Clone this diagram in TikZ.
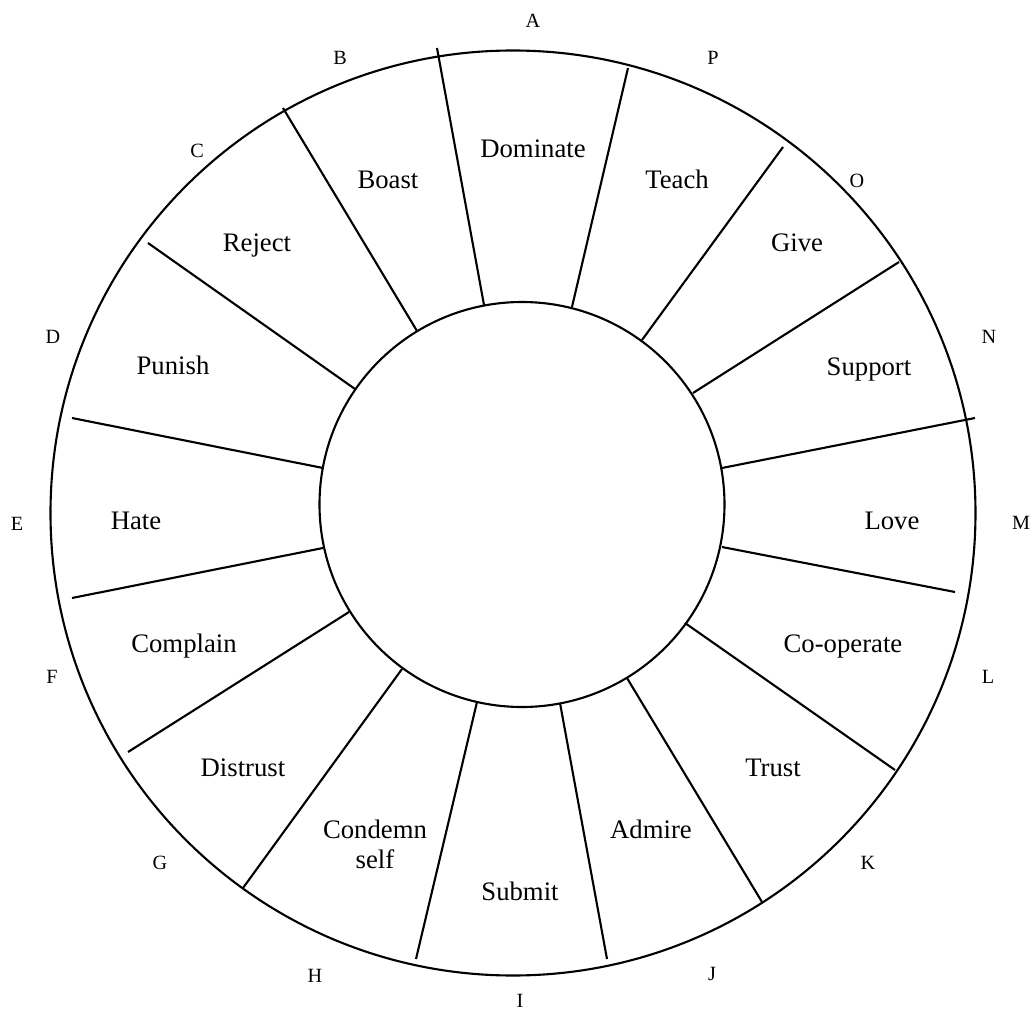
\documentclass[tikz,border=0pt]{standalone}
\usepackage{fontspec}
\setmainfont{Liberation Serif}
\usepackage{tikz}
\usetikzlibrary{positioning}

\tikzset{
  ring/.style={line width=1.2pt},
  spoke/.style={line width=1.2pt},
  octant/.style={anchor=base, inner sep=0pt, align=center, font=\fontsize{15.2}{17}\selectfont},
  pole/.style={anchor=base, inner sep=0pt, font=\fontsize{11.5}{13}\selectfont},
}

\begin{document}
\begin{tikzpicture}
\useasboundingbox (-10.26,-9.94) rectangle (10.44,10.26);
% the two rings
\draw[ring] (0,0) circle (9.25);
\draw[ring] (0.18,0.17) circle (4.05);
% spokes, outer end to inner end
\foreach \xa/\ya/\xb/\yb in {
  -1.52/9.30/-0.58/4.16,  2.30/8.90/1.18/4.12,
   5.40/7.32/2.58/3.46,   7.72/5.02/3.60/2.40,
   9.24/1.90/4.18/0.90,   8.84/-1.58/4.18/-0.68,
   7.64/-5.14/3.44/-2.20, 4.98/-7.78/2.28/-3.30,
   1.88/-8.92/0.94/-3.80, -1.94/-8.92/-0.72/-3.78,
  -5.40/-7.50/-2.22/-3.12, -7.70/-4.78/-3.28/-1.98,
  -8.82/-1.70/-3.80/-0.70, -8.82/1.90/-3.80/0.90,
  -7.30/5.40/-3.16/2.48, -4.60/8.10/-1.92/3.64}
  \draw[spoke] (\xa,\ya) -- (\xb,\yb);
% sector names
\foreach \name/\x/\y/\txt in {
  dominate/0.40/7.10/Dominate, teach/3.28/6.48/Teach,
  boast/-2.50/6.48/Boast, reject/-5.12/5.24/Reject,
  give/5.68/5.24/Give, punish/-6.80/2.78/Punish,
  support/7.12/2.76/Support, hate/-7.54/-0.32/Hate,
  love/7.58/-0.32/Love, complain/-6.58/-2.78/Complain,
  cooperate/6.60/-2.78/Co-operate, distrust/-5.40/-5.26/Distrust,
  trust/5.20/-5.26/Trust, submit/0.14/-7.74/Submit,
  admire/2.76/-6.50/Admire}
  \node[octant] (\name) at (\x,\y) {\txt};
\node[octant] (condemn) at (-2.76,-7.10) {Condemn\\self};
% letters round the rim
\foreach \l/\x/\y in {
  A/0.40/9.70, B/-3.46/8.96, C/-6.32/7.10, D/-9.20/3.40,
  E/-9.92/-0.34, F/-9.22/-3.40, G/-7.06/-7.12, H/-3.96/-9.38,
  I/0.14/-9.88, J/3.98/-9.34, K/7.10/-7.12, L/9.50/-3.40,
  M/10.16/-0.32, N/9.52/3.40, O/6.88/6.50, P/4.00/8.96}
  \node[pole] (p\l) at (\x,\y) {\l};
\end{tikzpicture}
\end{document}
